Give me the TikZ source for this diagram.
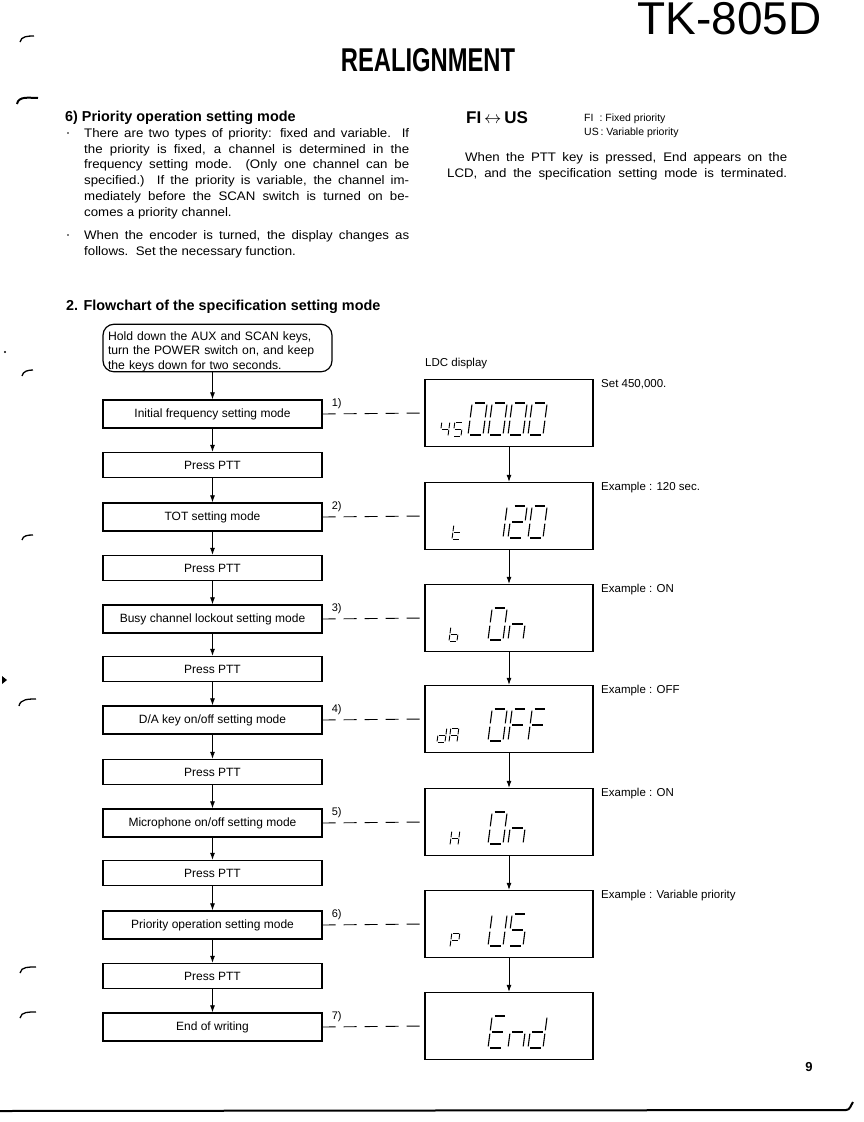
\documentclass[tikz,border=0pt]{standalone}
\usepackage{fontspec}
\setmainfont{Liberation Sans}
\newfontfamily\bodyfont[FakeStretch=1.07]{Liberation Sans}
\usetikzlibrary{arrows.meta}
\newcommand\fsz[2]{\fontsize{#1}{#2}\selectfont}
% seven-segment pieces (local unit: width 1, height 2)
\newcommand\sgA{\draw[segline] (0.16,2)--(0.84,2);}
\newcommand\sgB{\draw[segline] (1,1.9)--(1,1.1);}
\newcommand\sgC{\draw[segline] (1,0.9)--(1,0.1);}
\newcommand\sgD{\draw[segline] (0.16,0)--(0.84,0);}
\newcommand\sgE{\draw[segline] (0,0.1)--(0,0.9);}
\newcommand\sgF{\draw[segline] (0,1.1)--(0,1.9);}
\newcommand\sgG{\draw[segline] (0.16,1)--(0.84,1);}
\newcommand\segZero{\sgA\sgB\sgC\sgD\sgE\sgF}
\newcommand\segOne{\sgB\sgC}
\newcommand\segTwo{\sgA\sgB\sgG\sgE\sgD}
\newcommand\segFour{\sgF\sgG\sgB\sgC}
\newcommand\segFive{\sgA\sgF\sgG\sgC\sgD}
\newcommand\segN{\sgE\sgG\sgC}
\newcommand\segF{\sgA\sgF\sgG\sgE}
\newcommand\segU{\sgF\sgE\sgD\sgC\sgB}
\newcommand\segE{\sgA\sgF\sgG\sgE\sgD}
\newcommand\segD{\sgB\sgC\sgD\sgE\sgG}
\newcommand\segT{\sgF\sgG\sgE\sgD}
\newcommand\segB{\sgF\sgG\sgE\sgD\sgC}
\newcommand\segH{\sgF\sgB\sgG\sgE\sgC}
\newcommand\segP{\sgA\sgB\sgF\sgG\sgE}
\newcommand\segAA{\sgA\sgB\sgC\sgE\sgF\sgG}
% #1 x, #2 y bottom, #3 pattern
\newcommand\lcdbig[3]{\begin{scope}[shift={(#1,#2)},x=15pt,y=16pt,xslant=0.13,segline/.append style={line width=1.1pt}]#3\end{scope}}
\newcommand\lcdsmall[3]{\begin{scope}[shift={(#1,#2)},x=8pt,y=7pt,xslant=0.13,segline/.append style={line width=0.9pt}]#3\end{scope}}
\tikzset{
  segline/.style={line cap=butt},
  modebox/.style={draw, line width=1.4pt, minimum width=219pt, minimum height=28pt, inner sep=0pt, font=\fsz{12}{14}},
  pttbox/.style={modebox, minimum height=25pt},
  lcd/.style={draw, line width=1.4pt, minimum width=168pt, minimum height=67pt, inner sep=0pt},
  flow/.style={line width=0.8pt, -{Latex[length=7pt,width=5pt]}},
  dashlink/.style={line width=0.9pt, dash pattern=on 13pt off 8pt},
  numlabel/.style={font=\fsz{11}{12}, inner sep=0pt},
  note/.style={font=\fsz{11.5}{13}, anchor=north west, inner sep=0pt},
  bindmark/.style={line width=1.3pt},
  bodytext/.style={anchor=base west, inner sep=0pt, font=\bodyfont\fsz{12.4}{15.7}},
  headtext/.style={anchor=base west, inner sep=0pt, font=\bfseries\fsz{14.4}{16}},
}
\begin{document}
\begin{tikzpicture}[x=1pt,y=-1pt]
\useasboundingbox (0,0) rectangle (863,1122);
% header
\node[anchor=north east, inner sep=0pt, font=\fsz{46}{50}] (title) at (822,2) {TK-805D};
\node[inner sep=0pt, font=\bfseries\fsz{33}{36}, xscale=0.72] (realign) at (428,60) {REALIGNMENT};
% binding marks
\draw[bindmark] (20,42) to[out=80,in=180] (34,36);
\draw[bindmark, line width=2pt] (17,104) to[out=80,in=180] (38,98);
\draw[bindmark] (22,376) to[out=80,in=180] (33,370);
\draw[bindmark] (22,540) to[out=80,in=180] (33,535);
\draw[bindmark] (19,706) to[out=80,in=180] (36,699);
\draw[bindmark] (20,973) to[out=80,in=180] (36,967);
\draw[bindmark] (20,1018) to[out=80,in=180] (36,1012);
\fill (5,352) circle (1.2);
\fill (2,676) -- (7,680) -- (2,684) -- cycle;
% left text
\node[headtext] (h6) at (65,121) {6) Priority operation setting mode};
\fill (68,133) circle (0.9);
\fill (68,235) circle (0.9);
\node[bodytext] (p1) at (84,137.5) {\parbox[t]{325pt}{%
\makebox[325pt][s]{There are two types of priority: fixed and variable.\ \ If}\\
\makebox[325pt][s]{the priority is fixed, a channel is determined in the}\\
\makebox[325pt][s]{frequency setting mode.\ \ (Only one channel can be}\\
\makebox[325pt][s]{specified.)\ \ If the priority is variable, the channel im-}\\
\makebox[325pt][s]{mediately before the SCAN switch is turned on be-}\\
comes a priority channel.}};
\node[bodytext] (p2) at (84,239.5) {\parbox[t]{325pt}{%
\makebox[325pt][s]{When the encoder is turned, the display changes as}\\
follows.\ \ Set the necessary function.}};
% right text
\node[anchor=base west, inner sep=0pt, font=\bfseries\fsz{17}{19}] (fius) at (466,123) {FI\,$\leftrightarrow$\,US};
\node[anchor=base west, inner sep=0pt, font=\fsz{10.5}{12}] (k1) at (584,121) {FI\hspace{6pt}: Fixed priority};
\node[anchor=base west, inner sep=0pt, font=\fsz{10.5}{12}] (k2) at (584,135) {US\,: Variable priority};
\node[bodytext] (r1) at (465,161) {\makebox[322pt][s]{When the PTT key is pressed, End appears on the}};
\node[bodytext] (r2) at (447,177) {\makebox[340pt][s]{LCD, and the specification setting mode is terminated.}};
% flowchart title
\node[headtext] (h2) at (66,310) {2. Flowchart of the specification setting mode};
% start node
\node[draw, line width=1.2pt, rounded corners=11pt, minimum width=229pt, minimum height=44pt, inner xsep=5pt, inner ysep=0pt, text width=219pt, font=\fsz{12.2}{14.5}, align=left] (start) at (217.5,348) {\rule{0pt}{16pt}Hold down the AUX and SCAN keys,\\turn the POWER switch on, and keep\\the keys down for two seconds.};
% left column
\node[modebox] (m1) at (212.5,414) {Initial frequency setting mode};
\node[pttbox]  (q1) at (212.5,465) {Press PTT};
\node[modebox] (m2) at (212.5,517) {TOT setting mode};
\node[pttbox]  (q2) at (212.5,568) {Press PTT};
\node[modebox] (m3) at (212.5,619) {Busy channel lockout setting mode};
\node[pttbox]  (q3) at (212.5,669) {Press PTT};
\node[modebox] (m4) at (212.5,720) {D/A key on/off setting mode};
\node[pttbox]  (q4) at (212.5,772) {Press PTT};
\node[modebox] (m5) at (212.5,823) {Microphone on/off setting mode};
\node[pttbox]  (q5) at (212.5,873) {Press PTT};
\node[modebox] (m6) at (212.5,925) {Priority operation setting mode};
\node[pttbox]  (q6) at (212.5,976) {Press PTT};
\node[modebox] (m7) at (212.5,1027) {End of writing};
\draw[flow] (start.south -| m1.north) -- (m1.north);
\draw[flow] (m1) -- (q1);
\draw[flow] (q1) -- (m2);
\draw[flow] (m2) -- (q2);
\draw[flow] (q2) -- (m3);
\draw[flow] (m3) -- (q3);
\draw[flow] (q3) -- (m4);
\draw[flow] (m4) -- (q4);
\draw[flow] (q4) -- (m5);
\draw[flow] (m5) -- (q5);
\draw[flow] (q5) -- (m6);
\draw[flow] (m6) -- (q6);
\draw[flow] (q6) -- (m7);
% LCD column
\node[anchor=west, inner sep=0pt, font=\fsz{11.5}{13}] (ldc) at (425,364) {LDC display};
\node[lcd] (l1) at (509,413) {};
\node[lcd] (l2) at (509,516) {};
\node[lcd] (l3) at (509,618) {};
\node[lcd] (l4) at (509,719) {};
\node[lcd] (l5) at (509,822) {};
\node[lcd] (l6) at (509,924) {};
\node[lcd] (l7) at (509,1026) {};
\draw[flow] (l1) -- (l2);
\draw[flow] (l2) -- (l3);
\draw[flow] (l3) -- (l4);
\draw[flow] (l4) -- (l5);
\draw[flow] (l5) -- (l6);
\draw[flow] (l6) -- (l7);
% dashed links and labels
\foreach \i in {1,...,7}{
  \draw[dashlink] (m\i.east) -- (l\i.west);
  \node[numlabel] at ([shift={(14,-10)}]m\i.east) {\i)};
}
% notes
\node[note] (n1) at (601,379) {Set 450,000.};
\node[note] (n2) at (601,482) {Example : 120 sec.};
\node[note] (n3) at (601,584) {Example : ON};
\node[note] (n4) at (601,685) {Example : OFF};
\node[note] (n5) at (601,788) {Example : ON};
\node[note] (n6) at (601,890) {Example : Variable priority};
% LCD contents
\lcdsmall{440}{436}{\segFour}\lcdsmall{453}{436}{\segFive}
\lcdbig{468}{435}{\segZero}\lcdbig{488}{435}{\segZero}\lcdbig{508}{435}{\segZero}\lcdbig{528}{435}{\segZero}
\lcdsmall{452}{539}{\segT}
\lcdbig{488}{538}{\segOne}\lcdbig{508}{538}{\segTwo}\lcdbig{528}{538}{\segZero}
\lcdsmall{449}{641}{\segB}
\lcdbig{488}{640}{\segZero}\lcdbig{508}{640}{\segN}
\lcdsmall{437}{742}{\segD}\lcdsmall{449}{742}{\segAA}
\lcdbig{488}{741}{\segZero}\lcdbig{508}{741}{\segF}\lcdbig{528}{741}{\segF}
\lcdsmall{450}{845}{\segH}
\lcdbig{488}{844}{\segZero}\lcdbig{508}{844}{\segN}
\lcdsmall{450}{947}{\segP}
\lcdbig{488}{946}{\segU}\lcdbig{508}{946}{\segFive}
\lcdbig{488}{1048}{\segE}\lcdbig{508}{1048}{\segN}\lcdbig{528}{1048}{\segD}
% page number and rule
\node[anchor=base, inner sep=0pt, font=\bfseries\fsz{13}{15}] (pg) at (809,1071) {9};
\draw[line width=2pt] (0,1111) -- (846,1110) to[out=0,in=235] (853,1102);
\end{tikzpicture}
\end{document}
